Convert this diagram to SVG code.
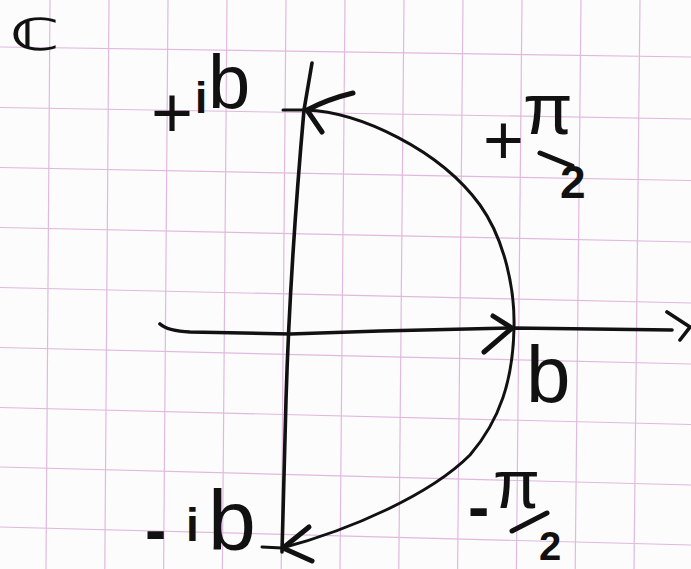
<svg xmlns="http://www.w3.org/2000/svg" width="691" height="569" viewBox="0 0 691 569">
<style>
.grid line{stroke:#e0b9de;stroke-width:1.2}
.ink{fill:none;stroke:#111;stroke-linecap:round;stroke-linejoin:round}
.axis{stroke-width:3.6}
.arc{stroke-width:3}
.head{stroke-width:5}
.lbl{font-family:"Liberation Sans",Arial,sans-serif;fill:#111}
</style>
<rect width="691" height="569" fill="#fdfcfd"/>
<g id="grid" class="grid">
<line x1="50" y1="0" x2="46" y2="569"/>
<line x1="109" y1="0" x2="104.8" y2="569"/>
<line x1="168" y1="0" x2="163.6" y2="569"/>
<line x1="227" y1="0" x2="222.4" y2="569"/>
<line x1="286" y1="0" x2="281.2" y2="569"/>
<line x1="345" y1="0" x2="340" y2="569"/>
<line x1="404" y1="0" x2="398.8" y2="569"/>
<line x1="463" y1="0" x2="457.6" y2="569"/>
<line x1="522" y1="0" x2="516.4" y2="569"/>
<line x1="581" y1="0" x2="575.2" y2="569"/>
<line x1="640" y1="0" x2="634" y2="569"/>
<line x1="0" y1="47" x2="691" y2="57"/>
<line x1="0" y1="107.5" x2="691" y2="119"/>
<line x1="0" y1="167.5" x2="691" y2="180.5"/>
<line x1="0" y1="227.5" x2="691" y2="242"/>
<line x1="0" y1="287.5" x2="691" y2="303"/>
<line x1="0" y1="347.5" x2="691" y2="364"/>
<line x1="0" y1="407.5" x2="691" y2="424.5"/>
<line x1="0" y1="467" x2="691" y2="485"/>
<line x1="0" y1="527" x2="691" y2="545"/>
</g>
<g id="connectors">
<path id="imag-axis" class="ink axis" d="M312,63 L304,110 C296,200 289,300 286,400 L282,552"/>
<path id="real-axis" class="ink axis" d="M160,324 Q168,331 190,332 L290,334 L380,331 L513,328 L672,330"/>
<path id="real-axis-head" class="ink axis" d="M667,312 L690,327 L680,340"/>
<path id="contour" class="ink arc" d="M283,110 L306,110 C360,112 440,150 480,205 C505,240 515,290 514,328 C513,380 500,420 470,455 C430,495 350,530 282,548 L262,547"/>
<path id="head-top" class="ink head" d="M353,93 Q328,99 307,110 L322,132"/>
<path id="head-mid" class="ink head" d="M493,316 L512,328 L484,352"/>
<path id="head-bottom" class="ink head" d="M309,527 L283,548 L312,561"/>
</g>
<g id="label-C">
<text x="10" y="50" font-family="DejaVu Sans,sans-serif" font-size="44" font-weight="bold" fill="#111" textLength="50" lengthAdjust="spacingAndGlyphs">ℂ</text>
</g>
<g id="label-plus-ib">
<text class="lbl"><tspan x="151" y="137" font-size="72">+</tspan><tspan x="195" y="113" font-size="44" font-weight="bold">i</tspan><tspan x="208" y="108" font-size="76">b</tspan></text>
</g>
<g id="label-minus-ib">
<text class="lbl"><tspan x="145" y="552" font-size="64" font-weight="bold">-</tspan><tspan x="186" y="541" font-size="46" font-weight="bold">i</tspan><tspan x="208" y="550" font-size="86">b</tspan></text>
</g>
<g id="label-b">
<text class="lbl" x="526" y="402" font-size="80">b</text>
</g>
<g id="label-plus-pi-2">
<text class="lbl"><tspan x="483" y="164" font-size="70">+</tspan><tspan x="523" y="134" font-size="72">π</tspan><tspan x="560" y="198" font-size="46" font-weight="bold">2</tspan></text>
<line class="ink" stroke-width="5" x1="540" y1="153" x2="572" y2="166"/>
</g>
<g id="label-minus-pi-2">
<text class="lbl"><tspan x="468" y="529" font-size="64" font-weight="bold">-</tspan><tspan x="493" y="508" font-size="68">π</tspan><tspan x="539" y="560" font-size="40" font-weight="bold">2</tspan></text>
<line class="ink" stroke-width="5" x1="512" y1="531" x2="547" y2="513"/>
</g>
</svg>
